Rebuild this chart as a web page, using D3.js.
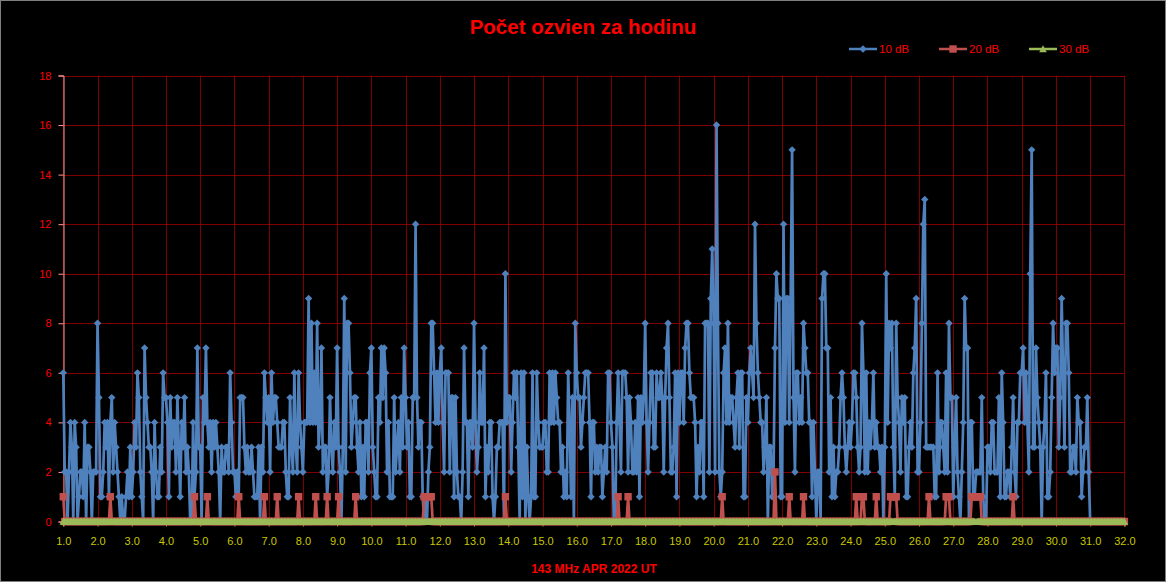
<!DOCTYPE html>
<html>
<head>
<meta charset="utf-8">
<script src="https://cdn.jsdelivr.net/npm/d3@7"></script>
<style>
  body { margin: 0; background: #000; }
  svg { display: block; font-family: "Liberation Sans", Arial, sans-serif; }
</style>
</head>
<body>
<svg id="chart" width="1166" height="582"></svg>
<script>
// hourly echo counts, one row per day (h0..h23), April 2022
var db10_days = [
  [6,2,2,0,2,4,3,0,4,3,0,1,2,2,1,4,0,3,3,2,0,2,2,2],
  [8,5,1,1,2,4,3,4,1,4,5,2,4,3,2,1,0,1,0,0,1,2,1,3],
  [1,2,4,3,6,5,2,1,0,7,5,4,3,3,2,0,4,2,1,1,3,2,6,5],
  [5,4,1,5,3,4,4,2,5,3,1,4,3,5,2,3,2,0,0,4,1,2,7,3],
  [3,0,5,4,7,4,3,4,2,4,3,4,3,2,0,3,2,2,3,3,2,6,4,2],
  [2,1,2,1,5,5,5,3,2,3,2,2,3,2,1,1,1,3,0,3,2,6,5,4],
  [5,2,6,4,5,5,4,3,3,3,4,4,2,1,1,5,3,2,6,3,2,6,4,3],
  [2,4,4,4,9,4,8,4,6,4,8,3,4,7,2,3,3,1,2,5,3,2,4,3],
  [7,3,2,0,3,9,2,8,8,6,3,4,5,5,3,2,4,1,3,1,4,4,2,6],
  [7,3,2,1,1,5,4,7,5,7,6,2,4,1,1,1,5,2,3,4,2,5,3,7],
  [5,3,4,1,1,5,5,12,5,3,4,4,1,0,1,0,2,3,8,8,6,4,6,4],
  [6,7,4,2,6,6,6,2,5,5,1,5,2,1,1,0,2,7,4,4,1,4,4,3],
  [8,4,2,3,6,4,4,7,1,3,2,4,4,1,0,1,3,3,4,4,4,0,10,4],
  [5,5,2,4,6,5,6,3,0,6,1,6,0,3,1,0,1,6,1,1,6,4,3,3],
  [3,4,4,2,2,6,4,6,4,6,5,4,4,2,3,1,2,1,6,4,1,5,0,8],
  [6,5,5,3,4,5,6,6,6,4,1,4,4,2,3,2,3,3,1,2,3,2,6,6],
  [4,3,0,0,4,6,4,2,6,6,6,5,2,5,4,2,2,4,2,5,1,5,4,5],
  [8,4,2,4,6,6,3,3,6,5,5,6,5,2,5,7,8,5,2,2,3,6,1,6],
  [4,6,6,4,7,8,8,6,5,5,5,4,1,3,2,4,4,1,8,8,8,2,9,11],
  [8,2,16,8,2,1,2,6,7,4,8,4,5,5,4,3,5,6,3,6,6,1,1,5],
  [4,6,7,6,5,12,8,6,5,4,4,2,3,5,0,3,3,1,2,7,10,9,9,1],
  [1,12,4,9,9,4,9,15,5,2,6,6,4,5,4,8,7,6,6,4,4,1,4,2],
  [0,2,2,0,9,10,10,7,7,2,5,1,3,1,2,2,3,5,6,5,3,2,3,4],
  [3,4,6,6,5,3,2,3,8,6,2,6,2,4,3,4,6,3,4,3,3,2,3,0],
  [3,10,4,8,7,8,3,1,8,5,4,2,5,4,5,1,1,3,4,3,6,7,9,2],
  [2,4,8,12,13,3,3,3,3,3,3,1,1,6,2,4,4,3,2,6,2,8,5,5],
  [1,3,5,2,1,0,2,4,9,7,7,0,4,4,1,1,2,2,2,2,5,1,0,0],
  [3,3,2,4,4,2,2,2,5,1,6,4,1,1,2,2,1,3,5,2,1,4,4,6],
  [6,7,4,6,4,2,10,15,3,3,7,5,4,3,0,3,4,6,1,1,2,5,8,6],
  [7,7,3,5,9,6,3,8,8,6,2,2,3,3,2,5,4,4,1,2,3,3,5,2]
];
var db10_end = 0;

var db20_days = [
  [1,0,0,0,0,0,0,0,0,0,0,0,0,0,0,0,0,0,0,0,0,0,0,0],
  [0,0,0,0,0,0,0,0,0,1,0,0,0,0,0,0,0,0,0,0,0,0,0,0],
  [0,0,0,0,0,0,0,0,0,0,0,0,0,0,0,0,0,0,0,0,0,0,0,0],
  [0,0,0,0,0,0,0,0,0,0,0,0,0,0,0,0,0,0,0,0,1,0,0,0],
  [0,0,0,0,0,1,0,0,0,0,0,0,0,0,0,0,0,0,0,0,0,0,0,0],
  [0,0,0,1,0,0,0,0,0,0,0,0,0,0,0,0,0,0,0,0,0,1,0,0],
  [0,0,0,0,0,0,1,0,0,0,0,0,0,0,0,0,0,0,0,0,0,1,0,0],
  [0,0,0,0,0,0,0,0,0,1,0,0,0,0,0,0,0,1,0,0,0,0,0,0],
  [0,1,0,0,0,0,0,0,0,0,0,0,0,1,0,0,0,0,0,0,0,0,0,0],
  [0,0,0,0,0,0,0,0,0,0,0,0,0,0,0,0,0,0,0,0,0,0,0,0],
  [0,0,0,0,0,0,0,0,0,0,0,0,0,1,1,1,1,1,1,0,0,0,0,0],
  [0,0,0,0,0,0,0,0,0,0,0,0,0,0,0,0,0,0,0,0,0,0,0,0],
  [0,0,0,0,0,0,0,0,0,0,0,0,0,0,0,0,0,0,0,0,0,0,1,0],
  [0,0,0,0,0,0,0,0,0,0,0,0,0,0,0,0,0,0,0,0,0,0,0,0],
  [0,0,0,0,0,0,0,0,0,0,0,0,0,0,0,0,0,0,0,0,0,0,0,0],
  [0,0,0,0,0,0,0,0,0,0,0,0,0,0,0,0,0,0,0,0,0,0,0,0],
  [0,0,0,0,0,1,0,0,0,0,0,0,1,0,0,0,0,0,0,0,0,0,0,0],
  [0,0,0,0,0,0,0,0,0,0,0,0,0,0,0,0,0,0,0,0,0,0,0,0],
  [0,0,0,0,0,0,0,0,0,0,0,0,0,0,0,0,0,0,0,0,0,0,0,0],
  [0,0,0,0,0,0,1,0,0,0,0,0,0,0,0,0,0,0,0,0,0,0,0,0],
  [0,0,0,0,0,0,0,0,0,0,0,0,0,0,0,0,0,0,0,2,0,0,0,0],
  [0,0,0,0,0,1,0,0,0,0,0,0,0,0,0,1,0,0,0,0,0,0,0,0],
  [0,0,0,0,0,0,0,0,0,0,0,0,0,0,0,0,0,0,0,0,0,0,0,0],
  [0,0,0,0,1,0,0,0,1,1,0,0,0,0,0,0,0,0,1,0,0,0,0,0],
  [0,0,0,0,1,1,1,1,1,0,0,0,0,0,0,0,0,0,0,0,0,0,0,0],
  [0,0,0,0,0,0,0,1,0,0,0,0,0,0,0,0,0,0,0,1,1,1,0,0],
  [0,0,0,0,0,0,0,0,0,0,0,0,0,1,1,1,1,1,1,1,0,0,0,0],
  [0,0,0,0,0,0,0,0,0,0,0,0,0,0,0,0,0,0,1,0,0,0,0,0],
  [0,0,0,0,0,0,0,0,0,0,0,0,0,0,0,0,0,0,0,0,0,0,0,0],
  [0,0,0,0,0,0,0,0,0,0,0,0,0,0,0,0,0,0,0,0,0,0,0,0],
  [0,0,0,0,0,0,0,0,0,0,0,0,0,0,0,0,0,0,0,0,0,0,0,0]
];
var db20_end = 0;

var db30_days = [
  [0,0,0,0,0,0,0,0,0,0,0,0,0,0,0,0,0,0,0,0,0,0,0,0],
  [0,0,0,0,0,0,0,0,0,0,0,0,0,0,0,0,0,0,0,0,0,0,0,0],
  [0,0,0,0,0,0,0,0,0,0,0,0,0,0,0,0,0,0,0,0,0,0,0,0],
  [0,0,0,0,0,0,0,0,0,0,0,0,0,0,0,0,0,0,0,0,0,0,0,0],
  [0,0,0,0,0,0,0,0,0,0,0,0,0,0,0,0,0,0,0,0,0,0,0,0],
  [0,0,0,0,0,0,0,0,0,0,0,0,0,0,0,0,0,0,0,0,0,0,0,0],
  [0,0,0,0,0,0,0,0,0,0,0,0,0,0,0,0,0,0,0,0,0,0,0,0],
  [0,0,0,0,0,0,0,0,0,0,0,0,0,0,0,0,0,0,0,0,0,0,0,0],
  [0,0,0,0,0,0,0,0,0,0,0,0,0,0,0,0,0,0,0,0,0,0,0,0],
  [0,0,0,0,0,0,0,0,0,0,0,0,0,0,0,0,0,0,0,0,0,0,0,0],
  [0,0,0,0,0,0,0,0,0,0,0,0,0,0,0,0,0,0,0,0,0,0,0,0],
  [0,0,0,0,0,0,0,0,0,0,0,0,0,0,0,0,0,0,0,0,0,0,0,0],
  [0,0,0,0,0,0,0,0,0,0,0,0,0,0,0,0,0,0,0,0,0,0,0,0],
  [0,0,0,0,0,0,0,0,0,0,0,0,0,0,0,0,0,0,0,0,0,0,0,0],
  [0,0,0,0,0,0,0,0,0,0,0,0,0,0,0,0,0,0,0,0,0,0,0,0],
  [0,0,0,0,0,0,0,0,0,0,0,0,0,0,0,0,0,0,0,0,0,0,0,0],
  [0,0,0,0,0,0,0,0,0,0,0,0,0,0,0,0,0,0,0,0,0,0,0,0],
  [0,0,0,0,0,0,0,0,0,0,0,0,0,0,0,0,0,0,0,0,0,0,0,0],
  [0,0,0,0,0,0,0,0,0,0,0,0,0,0,0,0,0,0,0,0,0,0,0,0],
  [0,0,0,0,0,0,0,0,0,0,0,0,0,0,0,0,0,0,0,0,0,0,0,0],
  [0,0,0,0,0,0,0,0,0,0,0,0,0,0,0,0,0,0,0,0,0,0,0,0],
  [0,0,0,0,0,0,0,0,0,0,0,0,0,0,0,0,0,0,0,0,0,0,0,0],
  [0,0,0,0,0,0,0,0,0,0,0,0,0,0,0,0,0,0,0,0,0,0,0,0],
  [0,0,0,0,0,0,0,0,0,0,0,0,0,0,0,0,0,0,0,0,0,0,0,0],
  [0,0,0,0,0,0,0,0,0,0,0,0,0,0,0,0,0,0,0,0,0,0,0,0],
  [0,0,0,0,0,0,0,0,0,0,0,0,0,0,0,0,0,0,0,0,0,0,0,0],
  [0,0,0,0,0,0,0,0,0,0,0,0,0,0,0,0,0,0,0,0,0,0,0,0],
  [0,0,0,0,0,0,0,0,0,0,0,0,0,0,0,0,0,0,0,0,0,0,0,0],
  [0,0,0,0,0,0,0,0,0,0,0,0,0,0,0,0,0,0,0,0,0,0,0,0],
  [0,0,0,0,0,0,0,0,0,0,0,0,0,0,0,0,0,0,0,0,0,0,0,0],
  [0,0,0,0,0,0,0,0,0,0,0,0,0,0,0,0,0,0,0,0,0,0,0,0]
];
var db30_end = 0;

var x_ticks = [1,2,3,4,5,6,7,8,9,10,11,12,13,14,15,16,17,18,19,20,21,22,23,24,25,26,27,28,29,30,31,32];
var y_ticks = [0,2,4,6,8,10,12,14,16,18];

var series_names  = ['10 dB', '20 dB', '30 dB'];
var series_colors = ['#4F81BD', '#C0504D', '#9BBB59'];

var title_text   = 'Počet ozvien za hodinu';
var x_title_text = '143 MHz APR 2022 UT';

// day rows -> points with x = day + hour/24
var to_points = (rows, end) =>
  rows.flatMap((r, d) => r.map((v, h) => ({ x: 1 + d + h / 24, y: v })))
      .concat([{ x: 1 + rows.length, y: end }]);

var sources = [
  to_points(db10_days, db10_end),
  to_points(db20_days, db20_end),
  to_points(db30_days, db30_end)
];

var svg = d3.select('#chart');
var W = 1166, H = 582;
var m = { left: 63.3, right: 1124.4, top: 75.5, bottom: 521.5 };

svg.append('rect')
  .attr('x', 0.5).attr('y', 0.5)
  .attr('width', W - 1).attr('height', H - 1)
  .attr('fill', '#000')
  .attr('stroke', '#7f7f7f');

var x = d3.scaleLinear()
  .domain([x_ticks[0], x_ticks[x_ticks.length - 1]])
  .range([m.left, m.right]);

var y = d3.scaleLinear()
  .domain([y_ticks[0], y_ticks[y_ticks.length - 1]])
  .range([m.bottom, m.top]);

// grid
var grid = svg.append('g').attr('class', 'grid');

grid.selectAll('line.h')
  .data(y_ticks)
  .enter()
  .append('line')
  .attr('x1', m.left).attr('x2', m.right)
  .attr('y1', (d) => Math.round(y(d)) + 0.5)
  .attr('y2', (d) => Math.round(y(d)) + 0.5)
  .attr('stroke', '#800000');

grid.selectAll('line.v')
  .data(x_ticks)
  .enter()
  .append('line')
  .attr('y1', m.top).attr('y2', m.bottom)
  .attr('x1', (d) => Math.round(x(d)) + 0.5)
  .attr('x2', (d) => Math.round(x(d)) + 0.5)
  .attr('stroke', '#800000');

// y axis
var y_axis = svg.append('g')
  .attr('transform', `translate(${ Math.round(m.left) + 0.5 }, 0)`)
  .call(d3.axisLeft(y).tickValues(y_ticks).tickSize(5).tickPadding(7).tickFormat(d3.format('d')));

y_axis.select('.domain').attr('stroke', '#ff9999');
y_axis.selectAll('.tick line').attr('stroke', '#ff9999');
y_axis.selectAll('.tick text')
  .attr('fill', '#ff0000')
  .style('font-size', '11px');

// x axis
var x_axis = svg.append('g')
  .attr('transform', `translate(0, ${ Math.round(m.bottom) + 0.5 })`)
  .call(d3.axisBottom(x).tickValues(x_ticks).tickSize(4).tickPadding(11).tickFormat(d3.format('.1f')));

x_axis.select('.domain').attr('stroke', '#ff9999');
x_axis.selectAll('.tick line').attr('stroke', '#c8c800');
x_axis.selectAll('.tick text')
  .attr('fill', '#c8c800')
  .style('font-size', '11px');

// series
var line = d3.line()
  .x((d) => x(d.x))
  .y((d) => y(d.y));

var marker_paths = [
  'M0,-3.7L3.7,0L0,3.7L-3.7,0Z',
  'M-3.7,-3.7H3.7V3.7H-3.7Z',
  'M0,-3.8L3.8,3.2H-3.8Z'
];

var gph = svg.append('g').attr('class', 'series');

sources.forEach((s, i) => {
  var g = gph.append('g');

  g.append('path')
    .datum(s)
    .attr('d', line)
    .attr('fill', 'none')
    .attr('stroke', series_colors[i])
    .attr('stroke-width', 2.7)
    .attr('stroke-linejoin', 'round');

  g.selectAll('path.mk')
    .data(s)
    .enter()
    .append('path')
    .attr('class', 'mk')
    .attr('d', marker_paths[i])
    .attr('transform', (d) => `translate(${ x(d.x) }, ${ y(d.y) })`)
    .attr('fill', series_colors[i]);
});

// title
svg.append('text')
  .attr('x', 583).attr('y', 34)
  .attr('text-anchor', 'middle')
  .attr('fill', '#ff0000')
  .style('font-size', '20.5px')
  .style('font-weight', 'bold')
  .text(title_text);

svg.append('text')
  .attr('x', 594).attr('y', 573)
  .attr('text-anchor', 'middle')
  .attr('fill', '#ff0000')
  .style('font-size', '12px')
  .style('font-weight', 'bold')
  .text(x_title_text);

// legend
var legend_x = [849, 939, 1029];

var legend = svg.append('g').attr('class', 'legend');

series_names.forEach((n, i) => {
  var lg = legend.append('g')
    .attr('transform', `translate(${ legend_x[i] }, 49)`);

  lg.append('line')
    .attr('x1', 0).attr('x2', 28)
    .attr('stroke', series_colors[i])
    .attr('stroke-width', 2.5);

  lg.append('path')
    .attr('d', marker_paths[i])
    .attr('transform', 'translate(14, 0)')
    .attr('fill', series_colors[i]);

  lg.append('text')
    .attr('x', 30).attr('y', 4)
    .attr('fill', '#ff0000')
    .style('font-size', '11.5px')
    .text(n);
});
</script>
</body>
</html>
